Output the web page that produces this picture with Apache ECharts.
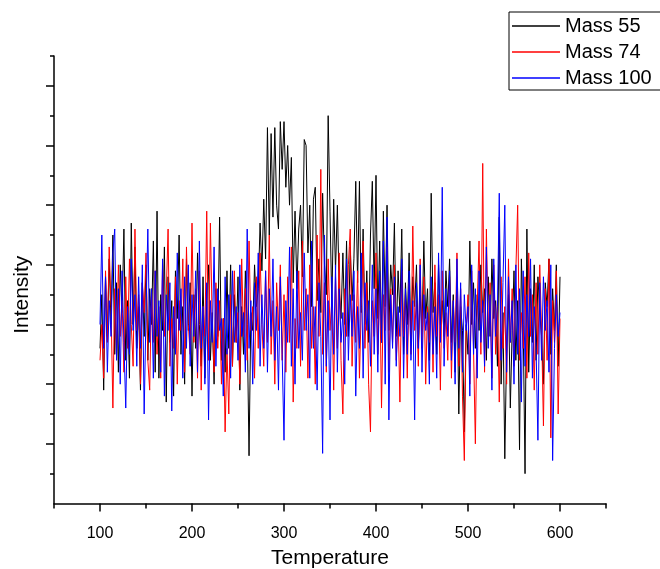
<!DOCTYPE html>
<html>
<head>
<meta charset="utf-8">
<script src="https://cdn.jsdelivr.net/npm/echarts@6/dist/echarts.min.js"></script>
<style>html,body{margin:0;padding:0;background:#fff;}#chart{width:660px;height:569px;}</style>
</head>
<body>
<div id="chart"></div>
<script>
// Temperature grid: 100 to 600, step 2
const temperatures = Array.from({length: 251}, (_, i) => 100 + 2 * i);

const mass55 = [
2.6,3.5,1.9,3.8,2.8,4.1,3.0,4.5,2.5,3.7,
2.2,4.0,3.2,4.6,2.4,3.4,2.1,4.7,3.0,4.3,
2.6,3.3,1.9,3.7,2.8,4.0,2.4,3.6,3.0,4.4,
2.2,4.9,2.1,3.5,2.9,4.3,1.7,3.8,2.7,3.4,
1.8,3.9,3.1,4.5,2.5,3.3,2.0,4.1,2.9,3.7,
1.8,3.5,2.6,4.2,3.0,2.3,3.8,2.1,3.4,4.0,
2.4,3.2,2.0,3.6,2.8,4.8,2.4,3.1,2.2,3.9,
2.6,4.0,2.3,3.5,2.7,3.8,1.9,3.3,2.5,3.9,
3.0,0.8,3.2,2.9,4.0,3.3,3.6,4.7,3.9,5.1,
4.1,6.3,4.5,6.2,4.8,6.3,5.0,4.6,6.4,5.6,
6.4,5.3,6.0,5.0,5.8,3.7,4.9,3.6,4.6,5.0,
3.8,6.1,6.0,4.2,5.0,3.3,5.1,5.3,3.4,4.1,
3.2,5.2,4.0,3.5,6.5,4.9,3.3,5.1,3.9,5.0,
3.6,3.1,4.2,3.0,4.4,2.8,4.3,3.4,4.1,5.4,
3.7,5.4,3.2,4.6,3.0,3.9,2.7,4.5,5.4,3.6,
5.5,3.1,4.4,2.7,4.9,3.3,5.0,2.9,4.0,3.5,
4.7,2.8,3.9,3.2,4.6,2.5,3.7,3.0,4.2,2.7,
3.8,3.3,4.0,2.6,3.5,2.9,4.4,3.1,3.6,2.4,
5.2,3.2,3.7,2.5,4.0,3.0,3.4,2.8,3.9,3.3,
4.1,2.7,3.5,2.2,3.8,1.5,3.3,2.9,1.2,3.0,
2.5,4.4,3.0,3.7,2.6,3.5,2.9,4.0,3.2,3.6,
2.4,3.8,2.8,4.1,3.1,3.4,2.3,4.8,2.0,3.2,
0.75,2.6,3.5,1.6,2.9,3.9,2.4,3.4,0.9,4.1,
3.0,0.5,4.6,2.2,3.6,2.7,4.0,2.4,3.8,3.2,
2.8,2.0,3.7,3.3,4.1,2.5,3.6,2.9,4.0,2.3,
3.8
];

const mass74 = [
2.4,3.0,2.1,3.9,2.7,4.3,3.3,1.6,3.6,2.5,
4.0,2.8,3.4,2.2,3.8,2.6,4.1,3.0,2.3,4.6,
2.9,3.5,2.0,3.7,3.2,4.2,2.4,1.9,3.6,2.7,
3.9,2.5,3.3,2.1,4.0,2.8,3.5,4.6,2.3,3.1,
2.6,3.8,2.0,3.4,2.9,4.1,2.2,4.3,3.0,2.5,
4.7,2.7,3.6,2.1,3.9,1.9,3.3,2.8,4.9,2.4,
4.7,3.0,2.2,3.7,2.6,3.4,2.0,3.1,1.2,2.6,
1.5,3.5,2.3,3.9,2.7,3.2,2.0,4.1,2.8,3.6,
2.4,4.4,2.9,3.3,2.1,3.8,2.6,4.2,3.0,2.3,
3.9,2.7,4.5,2.5,3.4,2.0,3.7,2.9,4.0,2.4,
3.5,2.2,3.8,2.7,4.3,1.7,3.1,2.6,3.9,2.3,
4.4,2.9,3.6,2.1,4.0,2.6,3.3,2.0,4.5,2.8,
5.6,2.5,3.7,2.2,4.1,2.9,3.4,1.9,3.8,2.6,
4.2,2.4,1.5,3.6,2.8,4.0,4.6,2.3,3.5,2.7,
3.9,2.1,3.3,4.4,2.6,3.7,2.0,1.2,3.4,2.8,
4.2,2.5,3.8,1.6,3.5,2.9,4.3,2.2,3.6,2.7,
4.0,2.4,3.2,1.7,3.9,2.8,3.5,2.1,3.7,2.5,
4.65,2.9,3.4,2.3,4.1,2.6,3.8,2.0,3.3,2.7,
3.6,2.2,4.0,2.8,3.5,1.9,3.9,2.6,3.2,2.4,
3.8,2.1,3.4,2.7,4.2,2.3,3.6,1.8,0.72,2.9,
3.5,2.0,3.9,2.6,1.0,3.3,4.4,2.5,5.7,2.2,
4.6,2.8,3.7,2.1,4.0,2.5,3.4,1.7,3.8,2.6,
3.3,2.0,4.1,2.7,3.6,2.3,3.9,5.0,2.4,3.2,
2.6,3.8,2.1,4.2,2.8,3.5,1.9,3.7,2.5,4.0,
2.9,1.3,3.6,2.4,4.1,1.1,3.4,2.7,3.9,1.5,
3.1
];

const mass100 = [
3.0,4.5,2.6,3.8,2.2,3.4,2.8,4.2,4.6,2.4,
3.6,2.0,3.9,2.7,1.6,3.3,2.5,4.1,2.9,3.5,
2.3,3.8,2.6,4.0,1.5,3.2,4.6,2.7,3.6,2.1,
3.9,2.8,3.4,2.2,4.1,1.8,3.5,2.9,3.7,1.55,
3.3,2.5,4.2,2.9,3.6,2.1,3.8,2.6,4.0,2.3,
3.5,2.8,3.9,2.2,4.4,2.6,3.3,2.0,3.7,1.4,
3.4,2.7,4.3,2.3,3.6,2.9,3.1,1.8,3.8,2.5,
3.5,2.1,3.9,2.7,3.3,2.4,4.0,2.8,3.2,2.2,
4.6,2.6,3.4,2.0,3.7,2.9,4.2,2.3,3.5,2.6,
3.9,2.2,3.6,2.8,4.1,2.4,3.3,1.9,3.8,2.5,
1.06,3.4,2.7,4.3,2.3,3.6,2.0,3.9,2.6,3.2,
2.4,4.2,2.9,3.5,2.1,4.4,2.6,3.3,1.9,3.7,
2.8,0.84,4.5,2.3,3.4,1.4,3.8,2.5,4.0,2.2,
3.6,2.7,3.2,2.0,4.1,2.4,3.5,2.8,3.9,1.8,
3.3,2.6,4.2,2.1,3.7,2.9,3.4,2.3,4.0,2.5,
3.6,2.2,3.9,2.7,4.4,2.0,4.8,1.4,3.5,2.6,
3.8,2.3,3.3,2.8,4.1,2.1,3.6,2.5,3.9,2.4,
3.4,1.4,3.7,2.6,4.0,2.2,3.5,2.9,3.2,2.0,
3.8,2.5,3.3,2.1,4.2,2.7,5.3,2.3,3.6,2.8,
3.9,2.4,3.4,2.0,4.1,2.6,3.7,2.2,3.5,2.9,
3.3,1.8,4.0,2.5,3.6,2.1,3.9,2.7,3.4,2.3,
4.3,2.6,3.5,1.9,4.1,2.8,3.3,5.2,2.4,3.7,
5.0,2.2,3.8,2.7,3.4,2.0,4.0,2.5,3.6,1.7,
3.9,2.3,3.5,2.8,4.1,2.1,3.3,2.6,1.06,3.7,
2.4,3.8,2.9,3.4,2.2,4.0,0.72,2.6,3.5,2.8,
3.2
];

const xMajorTicks = [100, 200, 300, 400, 500, 600];
const xMinorTicks = [50, 150, 250, 350, 450, 550, 650];
const yMajorTicks = [1, 2, 3, 4, 5, 6, 7];
const yMinorTicks = [0.5, 1.5, 2.5, 3.5, 4.5, 5.5, 6.5, 7.5];
const seriesNames = ['Mass 55', 'Mass 74', 'Mass 100'];
const seriesColors = ['#000000', '#ff0000', '#0000ff'];

const pair = arr => arr.map((v, i) => [temperatures[i], v]);
const allData = [mass55, mass74, mass100];

const FONT = 'Liberation Sans, Arial, sans-serif';
const axisLineStyle = { color: '#000', width: 1.5 };

const chart = echarts.init(document.getElementById('chart'), null, { renderer: 'canvas' });
chart.setOption({
  animation: false,
  backgroundColor: '#fff',
  grid: { left: 54, right: 54, top: 56, bottom: 65.5, containLabel: false, outerBoundsMode: 'none' },
  legend: {
    orient: 'vertical',
    left: 509,
    top: 12,
    padding: [4, 10, 2, 3],
    itemGap: 6,
    itemWidth: 48,
    itemHeight: 1.5,
    icon: 'rect',
    borderColor: '#000',
    borderWidth: 1,
    backgroundColor: '#fff',
    textStyle: { fontFamily: FONT, fontSize: 20, color: '#000' },
    data: seriesNames
  },
  xAxis: [
    {
      type: 'value', min: 50, max: 650,
      name: 'Temperature', nameLocation: 'middle', nameGap: 44,
      nameTextStyle: { fontFamily: FONT, fontSize: 21, color: '#000' },
      axisLine: { show: true, onZero: false, lineStyle: axisLineStyle },
      axisTick: { show: true, length: 8, lineStyle: axisLineStyle, customValues: xMajorTicks },
      axisLabel: { show: true, margin: 22, fontFamily: FONT, fontSize: 16, color: '#000', customValues: xMajorTicks },
      splitLine: { show: false }
    },
    {
      type: 'value', min: 50, max: 650, position: 'bottom',
      axisLine: { show: false },
      axisTick: { show: true, length: 5, lineStyle: axisLineStyle, customValues: xMinorTicks },
      axisLabel: { show: false },
      splitLine: { show: false }
    }
  ],
  yAxis: [
    {
      type: 'value', min: 0, max: 7.5,
      name: 'Intensity', nameLocation: 'middle', nameGap: 21, nameRotate: 90,
      nameTextStyle: { fontFamily: FONT, fontSize: 21, color: '#000', padding: [0, 30, 0, 0] },
      axisLine: { show: true, onZero: false, lineStyle: axisLineStyle },
      axisTick: { show: true, length: 8, lineStyle: axisLineStyle, customValues: yMajorTicks },
      axisLabel: { show: false },
      splitLine: { show: false }
    },
    {
      type: 'value', min: 0, max: 7.5, position: 'left',
      axisLine: { show: false },
      axisTick: { show: true, length: 4, lineStyle: axisLineStyle, customValues: yMinorTicks },
      axisLabel: { show: false },
      splitLine: { show: false }
    }
  ],
  series: allData.map((arr, k) => ({
    name: seriesNames[k],
    type: 'line',
    xAxisIndex: 0,
    yAxisIndex: 0,
    data: pair(arr),
    symbol: 'none',
    color: seriesColors[k],
    itemStyle: { color: seriesColors[k] },
    lineStyle: { color: seriesColors[k], width: 1 },
    z: 2 + k
  }))
});
</script>
</body>
</html>
